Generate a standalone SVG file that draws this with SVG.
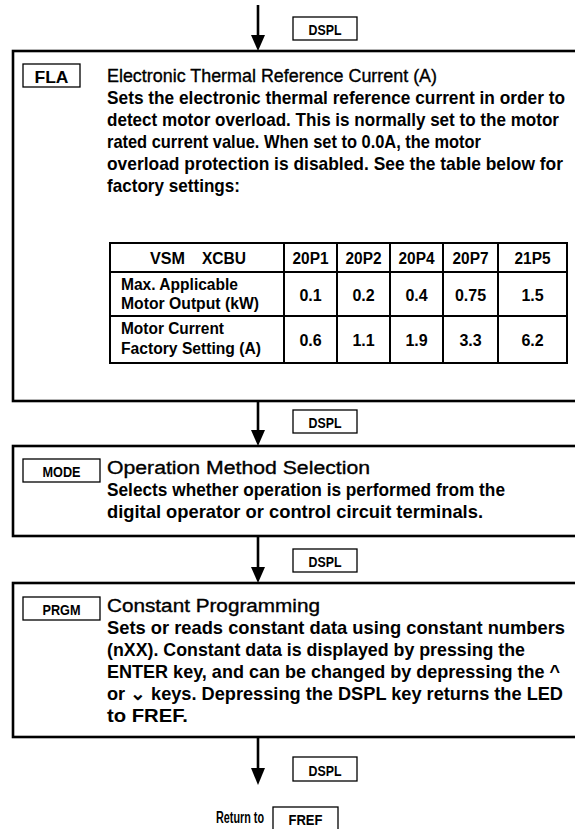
<svg xmlns="http://www.w3.org/2000/svg" width="575" height="829" viewBox="0 0 575 829">
<style>
.box{fill:none;stroke:#000;stroke-width:2.6}
.key{fill:#fff;stroke:#000;stroke-width:1.3}
.tbl{fill:none;stroke:#000;stroke-width:2}
.ln{stroke:#000;stroke-width:2.6}
.t{font-family:"Liberation Sans",Arial,sans-serif;font-size:18px;fill:#000;stroke:#000;stroke-width:0.35}
.b{font-family:"Liberation Sans",Arial,sans-serif;font-size:18.5px;font-weight:bold;fill:#000}
.k{font-family:"Liberation Sans",Arial,sans-serif;font-size:15px;font-weight:bold;fill:#000;text-anchor:middle}
.c{font-family:"Liberation Sans",Arial,sans-serif;font-size:16px;font-weight:bold;fill:#000}
.m{text-anchor:middle}
</style>
<g id="connectors">
<line class="ln" x1="258" y1="5" x2="258" y2="36"/><path d="M251,35 L265,35 L258,51 Z"/>
<line class="ln" x1="258" y1="401" x2="258" y2="431"/><path d="M251,430 L265,430 L258,446 Z"/>
<line class="ln" x1="258" y1="536" x2="258" y2="568"/><path d="M251,567 L265,567 L258,583 Z"/>
<line class="ln" x1="258" y1="737" x2="258" y2="769"/><path d="M251,768 L265,768 L258,785 Z"/>
<g id="dspl1"><rect class="key" x="293" y="17" width="64" height="23"/><text class="k" x="325" y="34.5" textLength="33" lengthAdjust="spacingAndGlyphs">DSPL</text></g>
<g id="dspl2"><rect class="key" x="293" y="410" width="64" height="23"/><text class="k" x="325" y="427.5" textLength="33" lengthAdjust="spacingAndGlyphs">DSPL</text></g>
<g id="dspl3"><rect class="key" x="293" y="549" width="64" height="23"/><text class="k" x="325" y="566.5" textLength="33" lengthAdjust="spacingAndGlyphs">DSPL</text></g>
<g id="dspl4"><rect class="key" x="293" y="757" width="64" height="24"/><text class="k" x="325" y="775.5" textLength="33" lengthAdjust="spacingAndGlyphs">DSPL</text></g>
</g>
<g id="fla">
<rect class="box" x="13" y="51" width="570" height="350"/>
<rect class="key" x="23" y="64" width="57" height="23"/><text class="k" x="51.5" y="82.5" style="font-size:17px" textLength="34" lengthAdjust="spacingAndGlyphs">FLA</text>
<text class="t" x="107" y="82" textLength="330" lengthAdjust="spacingAndGlyphs">Electronic Thermal Reference Current (A)</text>
<text class="b" x="107" y="104" textLength="458" lengthAdjust="spacingAndGlyphs">Sets the electronic thermal reference current in order to</text>
<text class="b" x="107" y="126" textLength="452" lengthAdjust="spacingAndGlyphs">detect motor overload. This is normally set to the motor</text>
<text class="b" x="107" y="148" textLength="374" lengthAdjust="spacingAndGlyphs">rated current value. When set to 0.0A, the motor</text>
<text class="b" x="107" y="170" textLength="456" lengthAdjust="spacingAndGlyphs">overload protection is disabled. See the table below for</text>
<text class="b" x="107" y="192" textLength="133" lengthAdjust="spacingAndGlyphs">factory settings:</text>
<g id="table">
<rect class="tbl" x="110" y="243" width="457" height="120"/>
<line class="tbl" x1="110" y1="272" x2="567" y2="272"/>
<line class="tbl" x1="110" y1="316" x2="567" y2="316"/>
<line class="tbl" x1="284" y1="243" x2="284" y2="363"/>
<line class="tbl" x1="337" y1="243" x2="337" y2="363"/>
<line class="tbl" x1="390" y1="243" x2="390" y2="363"/>
<line class="tbl" x1="443" y1="243" x2="443" y2="363"/>
<line class="tbl" x1="498" y1="243" x2="498" y2="363"/>
<text class="c" x="150" y="264" textLength="35" lengthAdjust="spacingAndGlyphs">VSM</text>
<text class="c" x="202" y="264" textLength="44" lengthAdjust="spacingAndGlyphs">XCBU</text>
<text class="c m" x="310.5" y="264" textLength="36" lengthAdjust="spacingAndGlyphs">20P1</text>
<text class="c m" x="363.5" y="264" textLength="36" lengthAdjust="spacingAndGlyphs">20P2</text>
<text class="c m" x="416.5" y="264" textLength="36" lengthAdjust="spacingAndGlyphs">20P4</text>
<text class="c m" x="470.5" y="264" textLength="36" lengthAdjust="spacingAndGlyphs">20P7</text>
<text class="c m" x="532.5" y="264" textLength="36" lengthAdjust="spacingAndGlyphs">21P5</text>
<text class="c" x="121" y="290" textLength="117" lengthAdjust="spacingAndGlyphs">Max. Applicable</text>
<text class="c" x="121" y="309" textLength="138" lengthAdjust="spacingAndGlyphs">Motor Output (kW)</text>
<text class="c m" x="310.5" y="301">0.1</text>
<text class="c m" x="363.5" y="301">0.2</text>
<text class="c m" x="416.5" y="301">0.4</text>
<text class="c m" x="470.5" y="301">0.75</text>
<text class="c m" x="532.5" y="301">1.5</text>
<text class="c" x="121" y="334" textLength="103" lengthAdjust="spacingAndGlyphs">Motor Current</text>
<text class="c" x="121" y="354" textLength="140" lengthAdjust="spacingAndGlyphs">Factory Setting (A)</text>
<text class="c m" x="310.5" y="346">0.6</text>
<text class="c m" x="363.5" y="346">1.1</text>
<text class="c m" x="416.5" y="346">1.9</text>
<text class="c m" x="470.5" y="346">3.3</text>
<text class="c m" x="532.5" y="346">6.2</text>
</g>
</g>
<g id="mode">
<rect class="box" x="13" y="446" width="570" height="90"/>
<rect class="key" x="23" y="459" width="77" height="23"/><text class="k" x="61.5" y="476.5" textLength="38" lengthAdjust="spacingAndGlyphs">MODE</text>
<text class="t" x="107" y="474" textLength="263" lengthAdjust="spacingAndGlyphs">Operation Method Selection</text>
<text class="b" x="107" y="496" textLength="398" lengthAdjust="spacingAndGlyphs">Selects whether operation is performed from the</text>
<text class="b" x="107" y="518" textLength="376" lengthAdjust="spacingAndGlyphs">digital operator or control circuit terminals.</text>
</g>
<g id="prgm">
<rect class="box" x="13" y="583" width="570" height="154"/>
<rect class="key" x="23" y="597" width="77" height="23"/><text class="k" x="61.5" y="614.5" textLength="38" lengthAdjust="spacingAndGlyphs">PRGM</text>
<text class="t" x="107" y="612" textLength="213" lengthAdjust="spacingAndGlyphs">Constant Programming</text>
<text class="b" x="107" y="634" textLength="458" lengthAdjust="spacingAndGlyphs">Sets or reads constant data using constant numbers</text>
<text class="b" x="107" y="656" textLength="418" lengthAdjust="spacingAndGlyphs">(nXX). Constant data is displayed by pressing the</text>
<text class="b" x="107" y="678" textLength="453" lengthAdjust="spacingAndGlyphs">ENTER key, and can be changed by depressing the ^</text>
<text class="b" x="107" y="700" textLength="456" lengthAdjust="spacingAndGlyphs">or ⌄  keys. Depressing the DSPL key returns the LED</text>
<text class="b" x="107" y="722" textLength="81" lengthAdjust="spacingAndGlyphs">to FREF.</text>
</g>
<g id="return">
<text class="c" x="216" y="823" textLength="48" lengthAdjust="spacingAndGlyphs">Return to</text>
<rect class="key" x="273" y="807" width="65" height="26"/><text class="k" x="305.5" y="824.5" textLength="34" lengthAdjust="spacingAndGlyphs">FREF</text>
</g>
</svg>
